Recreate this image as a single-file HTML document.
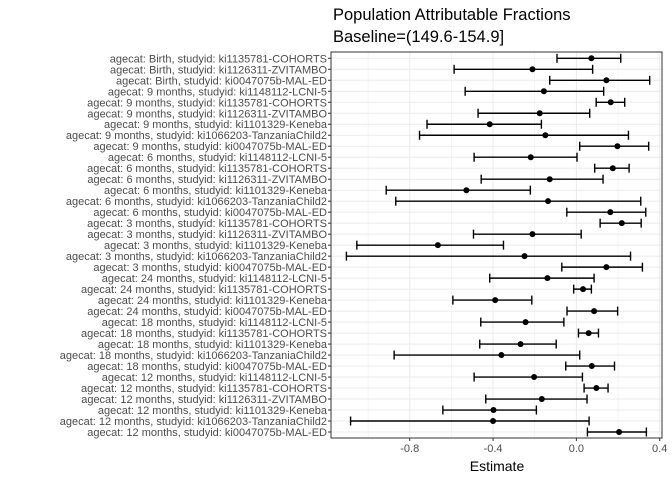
<!DOCTYPE html>
<html><head><meta charset="utf-8"><style>
body{margin:0;background:#fff;font-family:"Liberation Sans",sans-serif}
svg text{font-family:"Liberation Sans",sans-serif}
</style></head><body>
<svg id="chart" width="672" height="480" xmlns="http://www.w3.org/2000/svg">
<text x="333" y="20" font-size="16.5" fill="#000">Population Attributable Fractions</text>
<text x="333" y="42" font-size="16.5" fill="#000">Baseline=(149.6-154.9]</text>
<text x="497" y="471" font-size="14" text-anchor="middle" fill="#000">Estimate</text>
</svg>
<script>
const labels=["agecat: Birth, studyid: ki1135781-COHORTS","agecat: Birth, studyid: ki1126311-ZVITAMBO","agecat: Birth, studyid: ki0047075b-MAL-ED","agecat: 9 months, studyid: ki1148112-LCNI-5","agecat: 9 months, studyid: ki1135781-COHORTS","agecat: 9 months, studyid: ki1126311-ZVITAMBO","agecat: 9 months, studyid: ki1101329-Keneba","agecat: 9 months, studyid: ki1066203-TanzaniaChild2","agecat: 9 months, studyid: ki0047075b-MAL-ED","agecat: 6 months, studyid: ki1148112-LCNI-5","agecat: 6 months, studyid: ki1135781-COHORTS","agecat: 6 months, studyid: ki1126311-ZVITAMBO","agecat: 6 months, studyid: ki1101329-Keneba","agecat: 6 months, studyid: ki1066203-TanzaniaChild2","agecat: 6 months, studyid: ki0047075b-MAL-ED","agecat: 3 months, studyid: ki1135781-COHORTS","agecat: 3 months, studyid: ki1126311-ZVITAMBO","agecat: 3 months, studyid: ki1101329-Keneba","agecat: 3 months, studyid: ki1066203-TanzaniaChild2","agecat: 3 months, studyid: ki0047075b-MAL-ED","agecat: 24 months, studyid: ki1148112-LCNI-5","agecat: 24 months, studyid: ki1135781-COHORTS","agecat: 24 months, studyid: ki1101329-Keneba","agecat: 24 months, studyid: ki0047075b-MAL-ED","agecat: 18 months, studyid: ki1148112-LCNI-5","agecat: 18 months, studyid: ki1135781-COHORTS","agecat: 18 months, studyid: ki1101329-Keneba","agecat: 18 months, studyid: ki1066203-TanzaniaChild2","agecat: 18 months, studyid: ki0047075b-MAL-ED","agecat: 12 months, studyid: ki1148112-LCNI-5","agecat: 12 months, studyid: ki1135781-COHORTS","agecat: 12 months, studyid: ki1126311-ZVITAMBO","agecat: 12 months, studyid: ki1101329-Keneba","agecat: 12 months, studyid: ki1066203-TanzaniaChild2","agecat: 12 months, studyid: ki0047075b-MAL-ED"];
const est=[0.072,-0.211,0.144,-0.156,0.165,-0.176,-0.416,-0.149,0.197,-0.219,0.175,-0.128,-0.528,-0.136,0.163,0.218,-0.211,-0.665,-0.249,0.144,-0.139,0.032,-0.390,0.085,-0.244,0.059,-0.268,-0.360,0.074,-0.203,0.096,-0.166,-0.398,-0.400,0.205];
const lower=[-0.093,-0.587,-0.128,-0.534,0.095,-0.472,-0.717,-0.753,0.016,-0.491,0.088,-0.457,-0.913,-0.867,-0.046,0.114,-0.494,-1.054,-1.104,-0.070,-0.416,-0.013,-0.593,-0.045,-0.459,0.010,-0.464,-0.875,-0.051,-0.491,0.037,-0.435,-0.641,-1.084,0.053];
const upper=[0.213,0.078,0.352,0.131,0.232,0.064,-0.168,0.250,0.347,0.003,0.253,0.128,-0.221,0.309,0.333,0.311,0.023,-0.350,0.260,0.317,0.085,0.072,-0.214,0.198,-0.060,0.106,-0.097,0.016,0.183,0.029,0.152,0.051,-0.192,0.061,0.336];
const majorTicks=[-0.8,-0.4,0.0,0.4];
const tickLabels=["-0.8","-0.4","0.0","0.4"];
const minorTicks=[-1.0,-0.6,-0.2,0.2];

const svg=document.getElementById('chart');
const NS='http://www.w3.org/2000/svg';
const L=331,R=662,T=52,B=438;
const xmin=-1.178,xmax=0.411;
const xs=v=>L+(v-xmin)/(xmax-xmin)*(R-L);
const ys=i=>58.3+i*(432-58.3)/(labels.length-1);
function mk(tag,attrs,parent){const e=document.createElementNS(NS,tag);for(const k in attrs)e.setAttribute(k,attrs[k]);(parent||svg).appendChild(e);return e;}
const g=mk('g',{});


minorTicks.forEach(v=>{mk('line',{x1:xs(v),x2:xs(v),y1:T,y2:B,stroke:'#ebebeb','stroke-width':0.5},g);});
majorTicks.forEach(v=>{mk('line',{x1:xs(v),x2:xs(v),y1:T,y2:B,stroke:'#ebebeb','stroke-width':1},g);});
labels.forEach((l,i)=>{mk('line',{x1:L,x2:R,y1:ys(i),y2:ys(i),stroke:'#ebebeb','stroke-width':1},g);});
labels.forEach((l,i)=>{
  const t=mk('text',{x:327,y:ys(i)+4,'font-size':11,'text-anchor':'end',fill:'#4d4d4d'});
  t.textContent=l;
  
  
  mk('line',{x1:L-3,x2:L,y1:ys(i),y2:ys(i),stroke:'#333','stroke-width':1});
});
majorTicks.forEach((v,i)=>{
  mk('line',{x1:xs(v),x2:xs(v),y1:B,y2:B+3,stroke:'#333','stroke-width':1});
  const t=mk('text',{x:xs(v),y:B+14,'font-size':11,'text-anchor':'middle',fill:'#4d4d4d'});
  t.textContent=tickLabels[i];
  
  
});
est.forEach((e,i)=>{
  const y=ys(i);
  const eg=mk('g',{stroke:'#000','stroke-width':1.4,fill:'#000'});
  
  
  mk('line',{x1:xs(lower[i]),x2:xs(upper[i]),y1:y,y2:y},eg);
  mk('line',{x1:xs(lower[i]),x2:xs(lower[i]),y1:y-4.5,y2:y+4.5},eg);
  mk('line',{x1:xs(upper[i]),x2:xs(upper[i]),y1:y-4.5,y2:y+4.5},eg);
  const c=mk('circle',{cx:xs(e),cy:y,r:3,stroke:'none'},eg);
  
  
});
const fr=mk('rect',{x:L,y:T,width:R-L,height:B-T,fill:'none',stroke:'#333','stroke-width':1});


</script>
</body></html>
